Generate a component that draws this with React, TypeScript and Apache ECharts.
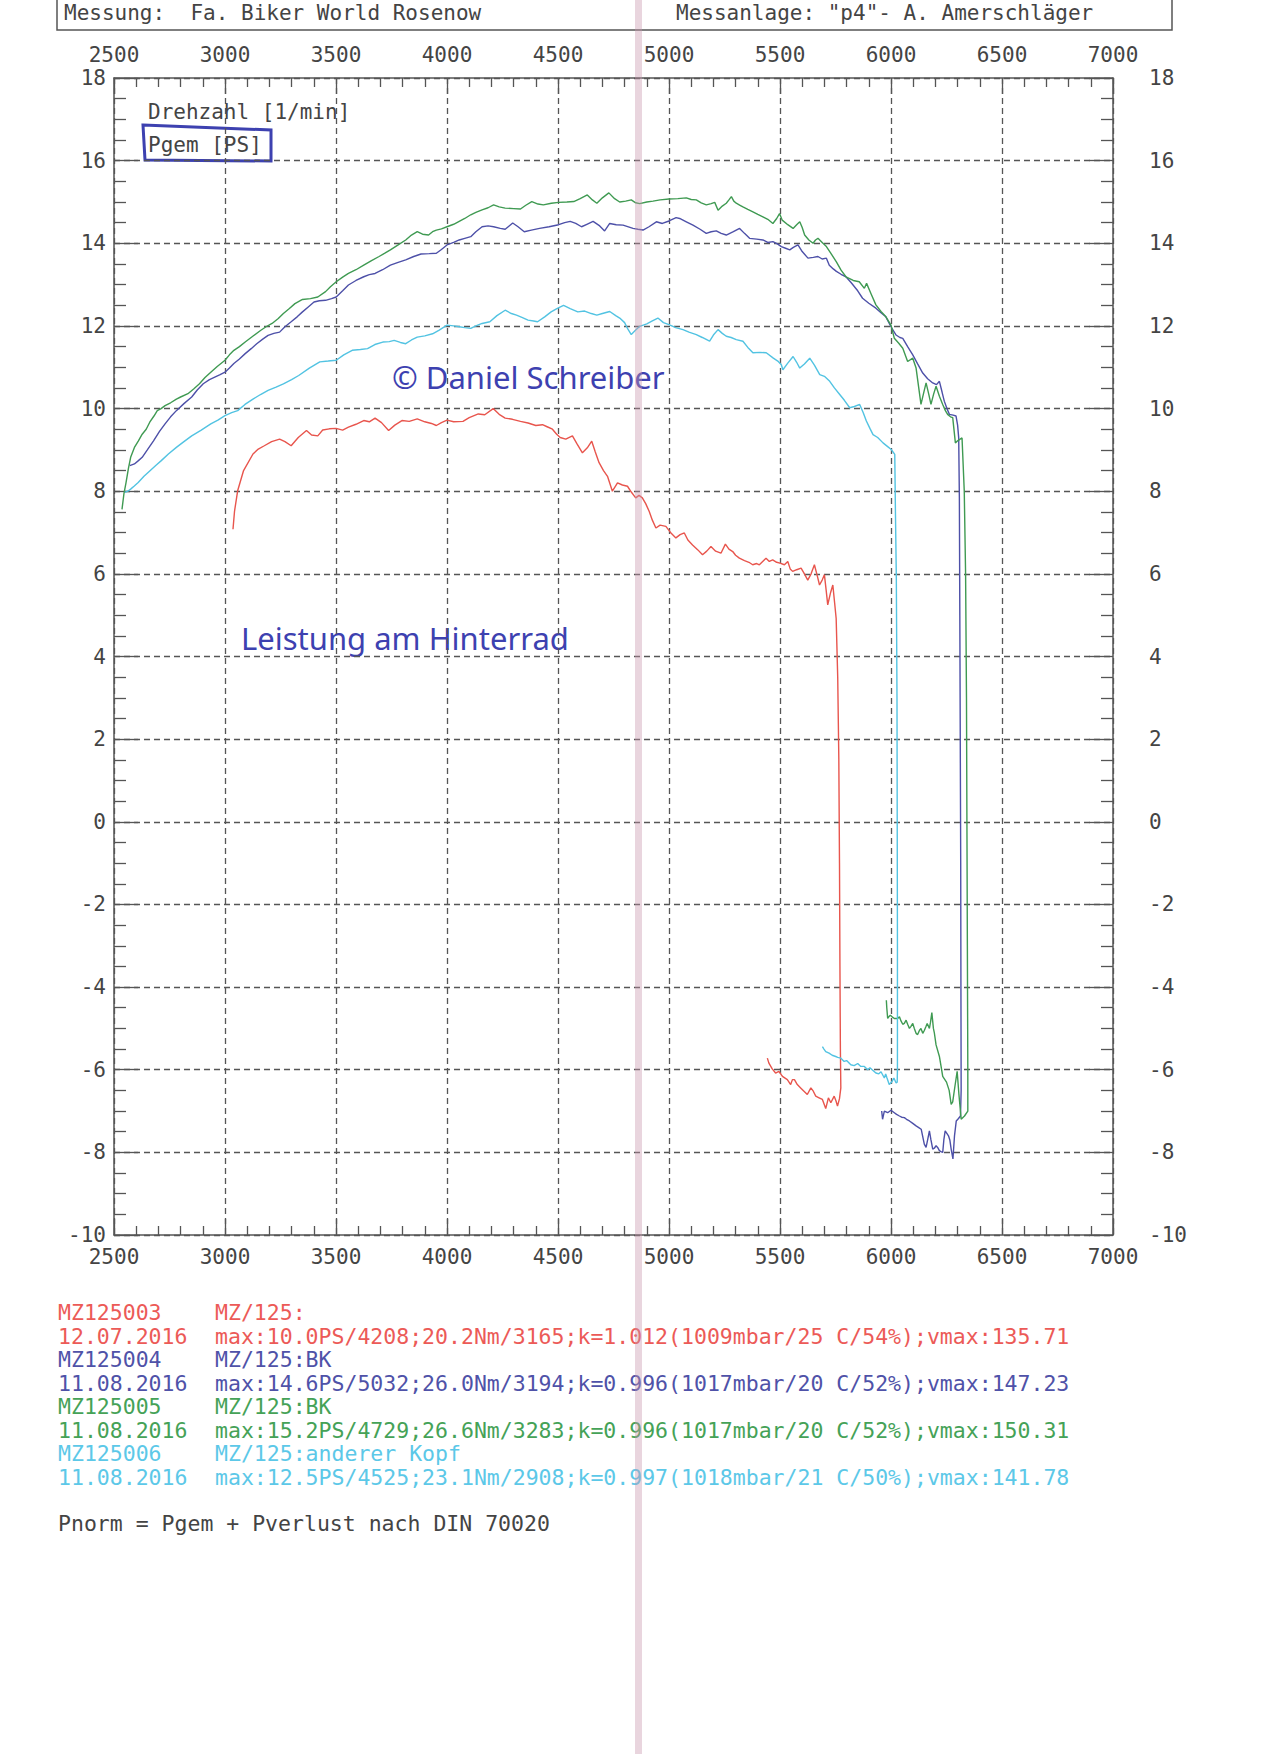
import React, { useEffect, useRef } from "react";
import * as echarts from "echarts";

// ---- axis ranges / ticks ----
const rpmTicks = [2500, 3000, 3500, 4000, 4500, 5000, 5500, 6000, 6500, 7000];
const psTicks = [-10, -8, -6, -4, -2, 0, 2, 4, 6, 8, 10, 12, 14, 16, 18];

// ---- run MZ125003 (red) ----
const redRpm = [3036,3043,3057,3083,3126,3150,3177,3210,3246,3270,3298,3330,3367,3390,3418,3440,3470,3500,3530,3556,3590,3625,3650,3676,3705,3737,3765,3797,3830,3866,3900,3930,3952,3975,4000,4030,4072,4100,4141,4170,4208,4235,4262,4295,4331,4365,4400,4430,4451,4475,4494,4510,4535,4565,4585,4610,4632,4652,4668,4685,4705,4723,4745,4768,4790,4813,4830,4850,4865,4880,4895,4911,4925,4941,4960,4986,5010,5031,5050,5069,5085,5106,5130,5151,5170,5189,5210,5234,5254,5270,5287,5300,5317,5340,5360,5377,5395,5407,5422,5437,5452,5467,5485,5500,5520,5535,5546,5557,5575,5595,5610,5625,5640,5655,5668,5678,5690,5700,5708,5715,5728,5738,5746,5753,5760,5765,5768,5770,5772,5774,5768,5759,5752,5744,5729,5718,5706,5691,5676,5661,5650,5639,5623,5608,5593,5578,5565,5556,5548,5533,5511,5495,5480,5465,5450,5443];
const redPs = [7.08,7.52,8.01,8.49,8.9,9.02,9.1,9.2,9.26,9.2,9.1,9.3,9.47,9.36,9.34,9.48,9.51,9.52,9.48,9.55,9.62,9.71,9.68,9.77,9.66,9.47,9.6,9.71,9.69,9.75,9.68,9.64,9.59,9.66,9.72,9.68,9.69,9.78,9.87,9.85,10.0,9.86,9.77,9.74,9.69,9.65,9.59,9.61,9.56,9.5,9.38,9.3,9.26,9.34,9.15,8.93,9.05,9.21,8.95,8.69,8.5,8.36,8.0,8.2,8.15,8.12,7.98,7.84,7.9,7.84,7.7,7.51,7.3,7.11,7.18,7.15,6.98,6.87,6.95,6.99,6.82,6.7,6.58,6.46,6.55,6.66,6.55,6.5,6.72,6.6,6.54,6.45,6.38,6.32,6.28,6.22,6.25,6.22,6.3,6.38,6.3,6.34,6.28,6.26,6.22,6.3,6.12,6.06,6.1,6.14,6.0,5.85,6.0,6.22,5.95,5.73,5.85,5.98,5.6,5.25,5.55,5.73,5.3,4.92,3.5,1.5,-1.0,-3.5,-5.5,-6.44,-6.7,-6.88,-6.75,-6.64,-6.8,-6.68,-6.94,-6.72,-6.68,-6.64,-6.52,-6.44,-6.6,-6.52,-6.44,-6.36,-6.24,-6.24,-6.36,-6.24,-6.16,-6.04,-6.08,-5.98,-5.84,-5.72];

// ---- run MZ125004 (blue) ----
const blueRpm = [2571,2592,2610,2627,2650,2678,2705,2730,2755,2781,2815,2850,2875,2902,2930,2954,2978,3000,3020,3040,3065,3091,3118,3143,3170,3194,3220,3246,3270,3298,3325,3349,3375,3401,3425,3453,3480,3501,3530,3556,3590,3625,3650,3676,3710,3745,3780,3814,3850,3883,3920,3952,3975,4000,4030,4055,4080,4107,4130,4158,4185,4210,4240,4262,4280,4296,4320,4348,4380,4417,4460,4503,4530,4555,4580,4606,4630,4658,4688,4710,4733,4762,4793,4838,4860,4883,4910,4943,4970,5000,5032,5048,5078,5108,5140,5168,5190,5213,5235,5258,5290,5318,5340,5363,5395,5423,5445,5468,5490,5506,5525,5544,5560,5581,5600,5626,5650,5671,5690,5709,5722,5740,5754,5775,5797,5820,5850,5872,5900,5932,5955,5977,6000,6023,6040,6053,6075,6098,6120,6143,6165,6188,6205,6218,6230,6240,6252,6263,6280,6293,6300,6305,6308,6310,6312,6314,6315,6316,6313,6304,6294,6286,6279,6271,6265,6259,6244,6238,6233,6225,6218,6210,6203,6195,6188,6180,6173,6165,6158,6150,6143,6136,6125,6113,6098,6083,6070,6060,6048,6038,6025,6015,6000,5985,5970,5962,5958];
const bluePs = [8.62,8.66,8.74,8.82,9.0,9.22,9.45,9.63,9.8,9.95,10.12,10.28,10.45,10.6,10.7,10.76,10.82,10.88,10.98,11.09,11.2,11.33,11.45,11.57,11.68,11.77,11.82,11.85,11.98,12.1,12.22,12.34,12.46,12.58,12.61,12.62,12.66,12.7,12.85,12.99,13.1,13.19,13.24,13.27,13.36,13.47,13.54,13.6,13.68,13.74,13.75,13.76,13.85,13.96,14.02,14.08,14.12,14.16,14.28,14.4,14.42,14.4,14.36,14.34,14.42,14.49,14.4,14.28,14.32,14.36,14.4,14.45,14.5,14.53,14.48,14.4,14.46,14.53,14.42,14.3,14.48,14.45,14.44,14.36,14.34,14.32,14.4,14.52,14.48,14.54,14.62,14.6,14.52,14.44,14.34,14.24,14.28,14.3,14.24,14.2,14.28,14.36,14.24,14.12,14.1,14.08,14.02,14.04,13.98,13.92,13.88,13.84,13.9,13.96,13.8,13.64,13.66,13.68,13.62,13.64,13.47,13.38,13.32,13.25,13.19,13.05,12.85,12.67,12.55,12.43,12.32,12.22,11.98,11.78,11.72,11.7,11.5,11.3,11.08,10.86,10.72,10.62,10.58,10.66,10.4,10.18,10.0,9.86,9.84,9.82,9.6,9.29,7.85,5.0,2.0,-1.0,-4.0,-6.5,-7.12,-7.18,-7.24,-7.6,-8.16,-7.92,-7.7,-7.6,-7.48,-7.7,-8.0,-7.98,-7.96,-7.88,-7.84,-7.9,-7.92,-7.7,-7.48,-7.7,-7.88,-7.8,-7.62,-7.44,-7.4,-7.36,-7.3,-7.24,-7.2,-7.16,-7.15,-7.12,-7.08,-7.04,-6.98,-7.04,-7.0,-7.2,-7.0];

// ---- run MZ125005 (green) ----
const greenRpm = [2536,2545,2554,2565,2575,2592,2610,2627,2645,2661,2680,2695,2712,2730,2755,2781,2800,2833,2860,2885,2910,2936,2965,3000,3020,3040,3065,3091,3125,3160,3185,3212,3240,3263,3290,3315,3349,3385,3418,3453,3475,3501,3530,3556,3590,3625,3660,3694,3720,3745,3780,3814,3840,3866,3890,3917,3935,3952,3975,4000,4030,4055,4080,4107,4130,4158,4185,4210,4235,4262,4300,4331,4355,4382,4410,4434,4470,4503,4540,4571,4600,4632,4655,4675,4700,4729,4755,4778,4805,4830,4850,4868,4900,4928,4960,5000,5040,5078,5100,5123,5145,5168,5190,5206,5221,5240,5258,5270,5281,5292,5303,5320,5333,5355,5378,5400,5423,5445,5468,5485,5498,5510,5535,5559,5575,5589,5600,5611,5630,5649,5660,5671,5690,5709,5730,5754,5775,5797,5830,5857,5880,5890,5910,5932,5955,5977,6000,6015,6035,6053,6075,6098,6113,6125,6135,6148,6158,6170,6180,6192,6203,6218,6233,6245,6255,6268,6278,6290,6300,6308,6320,6330,6336,6340,6342,6344,6346,6346,6331,6316,6306,6298,6288,6278,6271,6262,6250,6233,6225,6218,6203,6195,6191,6184,6178,6173,6163,6158,6150,6143,6135,6128,6120,6113,6105,6098,6090,6083,6075,6068,6060,6053,6045,6038,6030,6015,6005,5997,5990,5985,5981,5979];
const greenPs = [7.56,7.95,8.2,8.55,8.82,9.06,9.22,9.38,9.5,9.67,9.82,9.95,10.0,10.07,10.14,10.23,10.28,10.36,10.48,10.6,10.75,10.88,11.02,11.17,11.3,11.41,11.5,11.61,11.75,11.89,11.98,12.06,12.18,12.3,12.42,12.54,12.64,12.66,12.7,12.83,12.95,13.07,13.18,13.27,13.36,13.47,13.58,13.68,13.76,13.84,13.96,14.08,14.2,14.28,14.22,14.2,14.28,14.32,14.35,14.4,14.46,14.53,14.6,14.69,14.75,14.81,14.86,14.93,14.88,14.85,14.84,14.83,14.92,15.01,14.95,14.93,14.97,14.99,15.0,15.01,15.08,15.17,15.05,14.97,15.1,15.22,15.08,15.0,15.02,15.05,14.98,14.96,15.0,15.02,15.05,15.07,15.08,15.1,15.06,15.05,14.98,14.93,14.96,14.99,14.8,14.9,14.97,15.05,15.13,15.02,14.97,14.92,14.88,14.82,14.76,14.7,14.64,14.58,14.48,14.6,14.72,14.56,14.45,14.36,14.45,14.52,14.38,14.2,14.08,14.0,14.08,14.12,14.02,13.92,13.75,13.55,13.35,13.19,13.1,13.07,12.91,13.03,12.78,12.51,12.35,12.22,12.02,11.7,11.58,11.46,11.14,11.22,10.98,10.5,10.1,10.4,10.62,10.35,10.1,10.35,10.54,10.3,10.1,9.95,9.86,9.8,9.78,9.17,9.22,9.25,9.29,8.0,6.0,3.0,0.0,-3.0,-6.0,-7.0,-7.12,-7.2,-6.6,-6.04,-6.4,-6.78,-6.84,-6.5,-6.3,-6.16,-5.9,-5.68,-5.4,-5.1,-5.0,-4.62,-4.85,-5.0,-4.88,-4.95,-5.05,-5.12,-5.0,-5.05,-5.15,-5.12,-5.0,-4.88,-4.95,-5.0,-4.9,-4.8,-4.88,-4.9,-4.82,-4.72,-4.76,-4.76,-4.72,-4.68,-4.72,-4.76,-4.5,-4.32];

// ---- run MZ125006 (cyan) ----
const cyanRpm = [2549,2562,2575,2590,2609,2635,2661,2688,2713,2745,2781,2815,2850,2893,2936,2968,3000,3030,3057,3090,3126,3160,3194,3230,3263,3300,3332,3380,3427,3465,3501,3535,3573,3610,3642,3675,3711,3740,3762,3790,3814,3840,3866,3900,3935,3965,4000,4030,4055,4080,4107,4130,4158,4193,4225,4262,4290,4313,4340,4365,4390,4408,4440,4469,4495,4525,4555,4589,4620,4650,4675,4700,4733,4760,4778,4800,4815,4830,4850,4868,4900,4925,4950,4975,5000,5030,5063,5090,5123,5150,5183,5200,5221,5240,5258,5280,5303,5333,5355,5378,5410,5438,5470,5490,5506,5513,5535,5559,5575,5589,5610,5634,5655,5679,5700,5724,5745,5769,5790,5814,5835,5859,5875,5889,5905,5919,5940,5964,5985,6001,6017,6020,6024,6027,6028,6029,6029,6028,6023,6013,6003,5992,5982,5976,5970,5955,5945,5932,5915,5905,5895,5880,5864,5850,5834,5819,5800,5789,5774,5760,5751,5735,5721,5706,5698,5691];
const cyanPs = [7.97,8.0,8.05,8.12,8.21,8.36,8.49,8.62,8.74,8.9,9.06,9.2,9.34,9.48,9.63,9.72,9.83,9.9,9.95,10.1,10.23,10.34,10.44,10.52,10.6,10.7,10.8,10.98,11.13,11.15,11.17,11.3,11.41,11.43,11.45,11.55,11.61,11.62,11.65,11.6,11.57,11.66,11.73,11.76,11.81,11.9,12.02,12.0,11.98,11.96,11.94,12.0,12.06,12.1,12.25,12.38,12.3,12.26,12.2,12.14,12.12,12.1,12.22,12.34,12.42,12.5,12.42,12.34,12.36,12.3,12.26,12.3,12.35,12.25,12.19,12.08,11.92,11.79,11.9,11.99,12.05,12.12,12.19,12.08,12.03,11.96,11.91,11.85,11.79,11.72,11.63,11.78,11.91,11.82,11.75,11.72,11.67,11.63,11.48,11.35,11.36,11.35,11.22,11.15,11.06,10.94,11.1,11.26,11.12,10.98,11.08,11.22,11.05,10.82,10.78,10.66,10.5,10.34,10.2,10.02,10.05,10.1,9.9,9.7,9.52,9.37,9.3,9.17,9.08,9.01,8.89,7.5,5.9,3.0,0.0,-3.0,-6.0,-6.3,-6.32,-6.2,-6.3,-6.36,-6.2,-6.1,-6.2,-6.05,-6.1,-6.08,-6.0,-5.95,-6.0,-5.92,-5.92,-5.85,-5.9,-5.88,-5.78,-5.8,-5.72,-5.7,-5.68,-5.65,-5.6,-5.56,-5.5,-5.44];

// ---- legend text ----
const runIds = ["MZ125003", "MZ125004", "MZ125005", "MZ125006"];
const runDates = ["12.07.2016", "11.08.2016", "11.08.2016", "11.08.2016"];
const runModels = ["MZ/125:", "MZ/125:BK", "MZ/125:BK", "MZ/125:anderer Kopf"];
const runMax = [
  "max:10.0PS/4208;20.2Nm/3165;k=1.012(1009mbar/25 C/54%);vmax:135.71",
  "max:14.6PS/5032;26.0Nm/3194;k=0.996(1017mbar/20 C/52%);vmax:147.23",
  "max:15.2PS/4729;26.6Nm/3283;k=0.996(1017mbar/20 C/52%);vmax:150.31",
  "max:12.5PS/4525;23.1Nm/2908;k=0.997(1018mbar/21 C/50%);vmax:141.78",
];
const lineColors = ["#e8554d", "#4d50a8", "#3f9a52", "#52c3e2"];
const textColors = ["#ec5a57", "#4f52a8", "#45a257", "#5cc8e8"];

const zip = (xs: number[], ys: number[]) => xs.map((x, i) => [x, ys[i]]);

const MONO = "'DejaVu Sans Mono', monospace";
const HAND = "'Noto Sans', sans-serif";
const AX = "#555";

export default function App() {
  const ref = useRef<HTMLDivElement>(null);
  useEffect(() => {
    document.body.style.margin = "0";
    const chart = echarts.init(ref.current!, undefined, { renderer: "svg" });
    const label = { fontFamily: MONO, fontSize: 21, color: "#444", formatter: (v: number) => String(v) };
    const xBase = (pos: "top" | "bottom", showGrid: boolean, margin: number) => ({
      type: "value" as const,
      position: pos,
      min: rpmTicks[0],
      max: rpmTicks[rpmTicks.length - 1],
      interval: rpmTicks[1] - rpmTicks[0],
      axisLine: { show: true, onZero: false, lineStyle: { color: AX, width: 1.5 } },
      axisTick: { show: true, inside: true, length: 16, lineStyle: { color: AX, width: 1.3 } },
      minorTick: { show: true, splitNumber: 5, length: 9, lineStyle: { color: AX, width: 1.3 } },
      splitLine: { show: showGrid, lineStyle: { color: AX, width: 1.3, type: [6, 4] } },
      axisLabel: { ...label, margin, showMinLabel: true, showMaxLabel: true },
    });
    const yBase = (pos: "left" | "right", showGrid: boolean, margin: number, pad: number[]) => ({
      type: "value" as const,
      position: pos,
      min: psTicks[0],
      max: psTicks[psTicks.length - 1],
      interval: psTicks[1] - psTicks[0],
      axisLine: { show: true, onZero: false, lineStyle: { color: AX, width: 1.5 } },
      axisTick: { show: true, inside: true, length: 24, lineStyle: { color: AX, width: 1.3 } },
      minorTick: { show: true, splitNumber: 4, length: 12, lineStyle: { color: AX, width: 1.3 } },
      splitLine: { show: showGrid, lineStyle: { color: AX, width: 1.3, type: [6, 4] } },
      axisLabel: { ...label, margin, padding: pad, showMinLabel: true, showMaxLabel: true },
    });

    const runs = [
      { name: runIds[0], data: zip(redRpm, redPs) },
      { name: runIds[1], data: zip(blueRpm, bluePs) },
      { name: runIds[2], data: zip(greenRpm, greenPs) },
      { name: runIds[3], data: zip(cyanRpm, cyanPs) },
    ];

    const legendTexts: any[] = [];
    runIds.forEach((id, i) => {
      const y1 = 1312 + i * 47.3;
      const y2 = y1 + 24;
      const st = (t: string, x: number, y: number) => ({
        type: "text",
        x,
        y,
        style: { text: t, fontFamily: MONO, fontSize: 21.5, fill: textColors[i], verticalAlign: "middle" },
      });
      legendTexts.push(st(id, 58, y1), st(runModels[i], 215, y1), st(runDates[i], 58, y2), st(runMax[i], 215, y2));
    });

    chart.setOption({
      animation: false,
      backgroundColor: "#ffffff",
      grid: { left: 114, top: 78, width: 999, height: 1157, containLabel: false },
      xAxis: [xBase("bottom", true, 11), xBase("top", false, 13)],
      yAxis: [yBase("left", true, 8, [0, 0, 0, 0]), yBase("right", false, 36, [14, 0, 0, 0])],
      series: runs.map((r, i) => ({
        type: "line",
        name: r.name,
        data: r.data,
        showSymbol: false,
        symbol: "none",
        xAxisIndex: 0,
        yAxisIndex: 0,
        lineStyle: { color: lineColors[i], width: 1.4 },
        itemStyle: { color: lineColors[i] },
        z: 3,
      })),
      graphic: [
        {
          type: "rect",
          shape: { x: 57, y: -6, width: 1115, height: 36 },
          style: { fill: "none", stroke: "#555", lineWidth: 1.5 },
        },
        {
          type: "text",
          x: 64,
          y: 13,
          style: { text: "Messung:  Fa. Biker World Rosenow", fontFamily: MONO, fontSize: 21, fill: "#444", verticalAlign: "middle" },
        },
        {
          type: "text",
          x: 676,
          y: 13,
          style: { text: "Messanlage: \"p4\"- A. Amerschläger", fontFamily: MONO, fontSize: 21, fill: "#444", verticalAlign: "middle" },
        },
        {
          type: "text",
          x: 148,
          y: 112,
          style: { text: "Drehzahl [1/min]", fontFamily: MONO, fontSize: 21, fill: "#444", verticalAlign: "middle" },
        },
        {
          type: "text",
          x: 148,
          y: 145,
          style: { text: "Pgem [PS]", fontFamily: MONO, fontSize: 21, fill: "#444", verticalAlign: "middle" },
        },
        {
          type: "polygon",
          shape: { points: [[143, 125], [271, 130], [271, 161], [145, 160]] },
          style: { fill: "none", stroke: "#3d41b0", lineWidth: 3 },
        },
        {
          type: "text",
          x: 392,
          y: 377,
          style: { text: "© Daniel Schreiber", fontFamily: HAND, fontSize: 31, fill: "#3d41b0", verticalAlign: "middle" },
        },
        {
          type: "text",
          x: 241,
          y: 638,
          style: { text: "Leistung am Hinterrad", fontFamily: HAND, fontSize: 31, fill: "#3d41b0", verticalAlign: "middle" },
        },
        ...legendTexts,
        {
          type: "text",
          x: 58,
          y: 1523,
          style: { text: "Pnorm = Pgem + Pverlust nach DIN 70020", fontFamily: MONO, fontSize: 21.5, fill: "#444", verticalAlign: "middle" },
        },
        {
          type: "rect",
          z: 50,
          shape: { x: 635, y: 0, width: 7, height: 1754 },
          style: { fill: "rgba(200,150,172,0.4)" },
        },
      ],
    });
    return () => chart.dispose();
  }, []);
  return <div ref={ref} style={{ width: 1270, height: 1754, background: "#fff" }} />;
}
